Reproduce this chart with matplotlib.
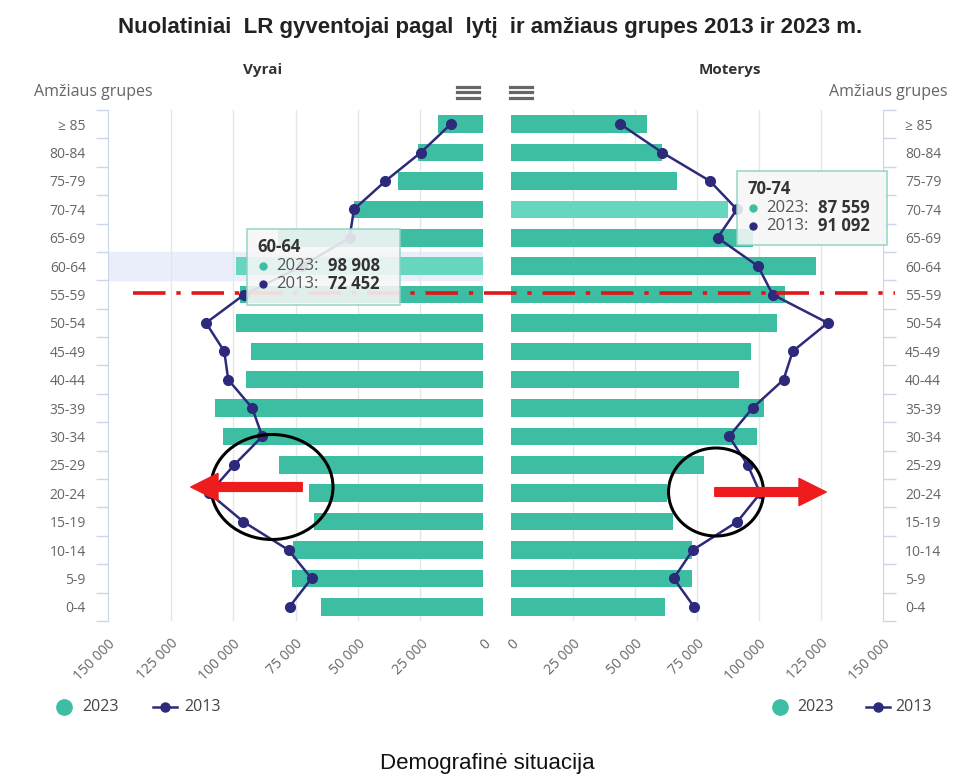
import numpy as np
import matplotlib
matplotlib.use('Agg')
import matplotlib.pyplot as plt
from matplotlib.lines import Line2D
from matplotlib.patches import Ellipse, Rectangle, FancyArrowPatch

plt.rcParams['font.family'] = ['Open Sans', 'DejaVu Sans']

# age groups, bottom to top
groups = ['0-4', '5-9', '10-14', '15-19', '20-24', '25-29', '30-34', '35-39',
          '40-44', '45-49', '50-54', '55-59', '60-64', '65-69', '70-74',
          '75-79', '80-84', '≥ 85']
men_2023 = [65000, 76600, 76200, 67700, 69800, 81800, 103900, 107100, 94700,
            92700, 98700, 97000, 98908, 82000, 51500, 34100, 26000, 18000]
men_2013 = [77400, 68600, 77800, 95900, 109500, 99500, 88300, 92300, 101900,
            103500, 110800, 95500, 72452, 53400, 51600, 39000, 24900, 12900]
women_2023 = [62000, 72800, 72800, 65200, 63000, 77700, 99100, 101900, 91800,
              96700, 107200, 110400, 123000, 97500, 87559, 67100, 60700, 55000]
women_2013 = [73800, 65600, 73300, 91300, 100500, 95400, 87900, 97400, 109900,
              113600, 127700, 105500, 99600, 83300, 91092, 80200, 61000, 44100]
xticks = [0, 25000, 50000, 75000, 100000, 125000, 150000]
xtick_labels = ['0', '25 000', '50 000', '75 000', '100 000', '125 000', '150 000']

TEAL = '#3dbea2'
TEAL_HOVER = '#66d6bf'
NAVY = '#2d2a7c'
GRID = '#e6e6e6'
AXIS = '#ccd6eb'
LABEL = '#666666'

W, H = 956, 777
fig = plt.figure(figsize=(W / 100, H / 100), dpi=100)


def fx(x):
    return x / W


def fy(y):
    return 1 - y / H


top, bottom = 110, 621
axL = fig.add_axes([fx(108), fy(bottom), fx(483 - 108), (bottom - top) / H])
axR = fig.add_axes([fx(511), fy(bottom), fx(883 - 511), (bottom - top) / H])

y = np.arange(len(groups))

for ax, bars, line, hover in [(axL, men_2023, men_2013, 12), (axR, women_2023, women_2013, 14)]:
    cols = [TEAL] * len(groups)
    cols[hover] = TEAL_HOVER
    if ax is axL:
        ax.axhspan(hover - 0.5, hover + 0.5, color='#e9eefa', zorder=0)
    ax.barh(y, bars, height=0.62, color=cols, zorder=2)
    ax.plot(line, y, color=NAVY, lw=1.8, marker='o', ms=7, zorder=3)
    ax.set_ylim(-0.5, len(groups) - 0.5)
    ax.set_xlim(0, 150000)
    ax.set_xticks(xticks)
    ax.set_xticklabels(xtick_labels, rotation=45, ha='right', va='top',
                       rotation_mode='anchor', color=LABEL, fontsize=10)
    ax.tick_params(axis='x', length=0, pad=11)
    ax.set_yticks(y)
    ax.set_yticklabels(groups, color=LABEL, fontsize=10)
    ax.set_yticks(np.arange(-0.5, len(groups), 1), minor=True)
    ax.tick_params(axis='y', which='major', length=0, pad=16)
    ax.tick_params(axis='y', which='minor', length=9, color=AXIS, width=1)
    for v in xticks[1:-1]:
        ax.axvline(v, color=GRID, lw=1, zorder=1)
    for s in ['top', 'bottom']:
        ax.spines[s].set_visible(False)

axL.invert_xaxis()
axL.spines['right'].set_visible(False)
axL.spines['left'].set_color(AXIS)
axR.spines['left'].set_visible(False)
axR.spines['right'].set_color(AXIS)
axR.yaxis.tick_right()

# titles
fig.text(fx(490), fy(28), 'Nuolatiniai  LR gyventojai pagal  lytį  ir amžiaus grupes 2013 ir 2023 m.',
         ha='center', va='center', fontsize=16, fontweight='bold', color='#222222',
         family=['Liberation Sans', 'DejaVu Sans'])
fig.text(fx(263), fy(70), 'Vyrai', ha='center', va='center', fontsize=11, fontweight='bold', color='#333333')
fig.text(fx(730), fy(70), 'Moterys', ha='center', va='center', fontsize=11, fontweight='bold', color='#333333')
fig.text(fx(34), fy(92), 'Amžiaus grupes', ha='left', va='center', fontsize=11.5, color=LABEL)
fig.text(fx(829), fy(92), 'Amžiaus grupes', ha='left', va='center', fontsize=11.5, color=LABEL)

# menu icons
for cx in [468, 521]:
    for yy in [87, 92, 98]:
        fig.add_artist(Line2D([fx(cx - 11), fx(cx + 11)], [fy(yy), fy(yy)], color='#666666', lw=2.3))

# legends
for c0, t0, l0, t1 in [(64, 82, 153, 184), (780, 797, 866, 895)]:
    fig.add_artist(Line2D([fx(c0)], [fy(707)], marker='o', ms=11, color=TEAL, lw=0))
    fig.text(fx(t0), fy(707), '2023', ha='left', va='center', fontsize=11.5, color='#444444')
    fig.add_artist(Line2D([fx(l0), fx(l0 + 24)], [fy(707), fy(707)], color=NAVY, lw=1.8))
    fig.add_artist(Line2D([fx(l0 + 12)], [fy(707)], marker='o', ms=6.5, color=NAVY, lw=0))
    fig.text(fx(t1), fy(707), '2013', ha='left', va='center', fontsize=11.5, color='#444444')

# red dash-dot reference line
fig.add_artist(Line2D([fx(133), fx(895)], [fy(293), fy(293)], color='#e0161b', lw=2.6,
                      linestyle=(0, (9, 3, 1.2, 3))))

# tooltips
tips = [(247, 229, 400, 305, '60-64', '98 908', '72 452'),
        (737, 171, 887, 245, '70-74', '87 559', '91 092')]
for x0, y0, x1, y1, grp, v23, v13 in tips:
    fig.add_artist(Rectangle((fx(x0), fy(y1)), fx(x1 - x0), (y1 - y0) / H, facecolor='#f7f7f7',
                             edgecolor='#8fd3c2', lw=1.2, alpha=0.88, zorder=5))
    fig.text(fx(x0 + 10), fy(y0 + 18), grp, ha='left', va='center', fontsize=12,
             fontweight='bold', color='#333333', zorder=6)
    for i, (lab, val, c) in enumerate([('2023', v23, TEAL), ('2013', v13, NAVY)]):
        yy = y0 + 37 + i * 18
        fig.add_artist(Line2D([fx(x0 + 16)], [fy(yy)], marker='o', ms=5, color=c, lw=0, zorder=6))
        fig.text(fx(x0 + 29), fy(yy), lab + ':', ha='left', va='center', fontsize=12,
                 color='#555555', zorder=6)
        fig.text(fx(x0 + 81), fy(yy), val, ha='left', va='center', fontsize=12,
                 fontweight='bold', color='#333333', zorder=6)

# annotation circles and arrows
fig.add_artist(Ellipse((fx(272), fy(487)), fx(122), 105 / H, fill=False, edgecolor='black', lw=2.2, zorder=7))
fig.add_artist(Ellipse((fx(716), fy(492)), fx(95), 88 / H, fill=False, edgecolor='black', lw=2.2, zorder=7))
for xa, xb, ya in [(305, 188, 487), (712, 829, 492)]:
    fig.add_artist(FancyArrowPatch((fx(xa), fy(ya)), (fx(xb), fy(ya)), transform=fig.transFigure,
                                   arrowstyle='simple,head_length=1.4,head_width=1.4,tail_width=0.45',
                                   mutation_scale=14, color='#ee1c1c', zorder=8))

fig.text(fx(487), fy(763), 'Demografinė situacija', ha='center', va='center', fontsize=16,
         color='#111111', family=['Liberation Sans', 'DejaVu Sans'])

fig.savefig('out.png', dpi=100)
plt.close(fig)
